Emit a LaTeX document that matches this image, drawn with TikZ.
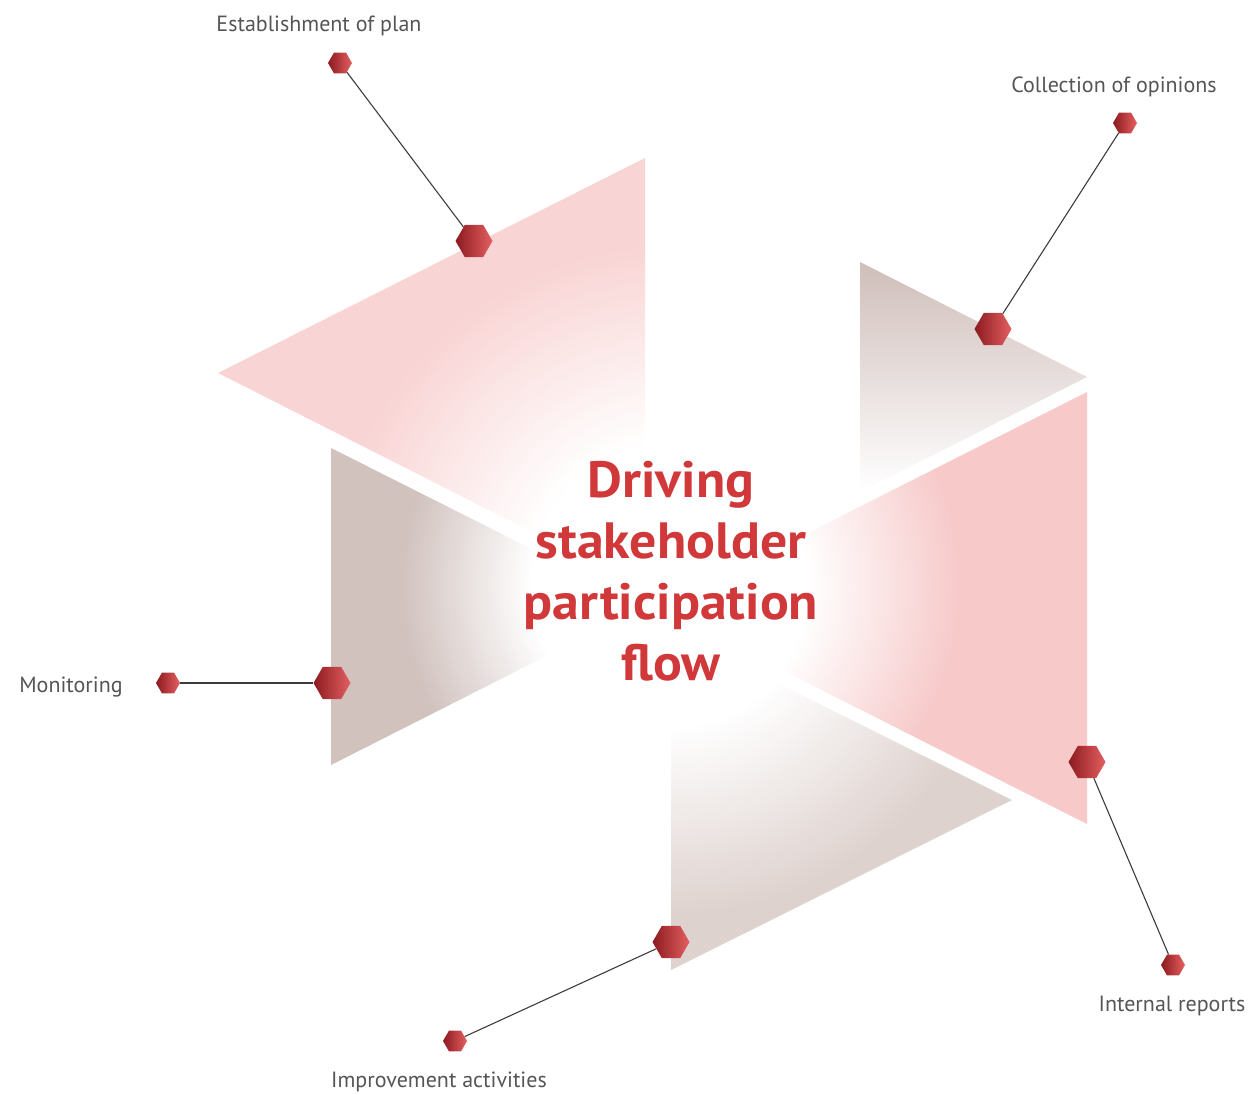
\documentclass[tikz,border=0pt]{standalone}
\usepackage{fontspec}
\setmainfont{PT Sans}
\newfontfamily\titlefont[FakeStretch=1.055]{PT Sans Bold}
\usetikzlibrary{shapes.geometric}
\definecolor{pinkT1}{RGB}{249,212,212}
\definecolor{pinkT4}{RGB}{247,201,201}
\definecolor{taupeA}{RGB}{207,190,186}
\definecolor{taupeT2}{RGB}{209,194,190}
\definecolor{taupeT5}{RGB}{222,210,206}
\definecolor{hexdark}{RGB}{140,26,32}
\definecolor{hexlight}{RGB}{228,96,96}
\definecolor{titlered}{RGB}{208,56,58}
\definecolor{lblgray}{RGB}{85,85,85}
\definecolor{linegray}{RGB}{60,60,60}
% path bounding box half-width (500 units) maps to 25bp: 1bp = 20 units
\pgfdeclareradialshading{shTone}{\pgfpointorigin}{color(0bp)=(white); color(7bp)=(white); color(17bp)=(pinkT1); color(50bp)=(pinkT1)}
\pgfdeclareradialshading{shTtwo}{\pgfpointorigin}{color(0bp)=(white); color(7bp)=(white); color(13.5bp)=(taupeT2); color(50bp)=(taupeT2)}
\pgfdeclareradialshading{shTfour}{\pgfpointorigin}{color(0bp)=(white); color(6.8bp)=(white); color(14.5bp)=(pinkT4); color(50bp)=(pinkT4)}
\pgfdeclareradialshading{shTfive}{\pgfpointorigin}{color(0bp)=(white); color(7bp)=(white); color(16.5bp)=(taupeT5); color(50bp)=(taupeT5)}
\tikzset{
  hexbig/.style={regular polygon, regular polygon sides=6, minimum size=37pt, inner sep=0pt, left color=hexdark, right color=hexlight, draw=none},
  hexsmall/.style={regular polygon, regular polygon sides=6, minimum size=24pt, inner sep=0pt, left color=hexdark, right color=hexlight, draw=none},
  lbl/.style={text=lblgray, font=\fontsize{22}{26}\selectfont, inner sep=0pt},
  conn/.style={draw=linegray, line width=1.1pt},
}
\begin{document}
\begin{tikzpicture}[x=1pt,y=-1pt]
\useasboundingbox (0,0) rectangle (1249,1094);
% triangles with white core (shading square centred at (671,585))
\begin{scope}
  \clip (218,373) -- (645,158) -- (645,589) -- cycle;
  \shade[shading=shTone] (171,85) rectangle (1171,1085);
\end{scope}
\begin{scope}
  \clip (331,448) -- (331,765) -- (645,606) -- cycle;
  \shade[shading=shTtwo] (171,85) rectangle (1171,1085);
\end{scope}
\shade[top color=taupeA, bottom color=white] (860,262) -- (1087,377) -- (860,492) -- cycle;
\begin{scope}
  \clip (1087,392) -- (1087,824) -- (659,608) -- cycle;
  \shade[shading=shTfour] (171,85) rectangle (1171,1085);
\end{scope}
\begin{scope}
  \clip (671,630) -- (1012,800) -- (671,970) -- cycle;
  \shade[shading=shTfive] (171,85) rectangle (1171,1085);
\end{scope}
% title
\node[text=titlered, font=\titlefont\fontsize{51}{61}\selectfont, align=center, anchor=north, inner sep=0pt] (title) at (671,461) {Driving\\stakeholder\\participation\\flow};
% hexagons
\node[hexbig] (h1) at (474,241) {};
\node[hexbig] (h2) at (993,329) {};
\node[hexbig] (h3) at (332,683) {};
\node[hexbig] (h4) at (1087,762) {};
\node[hexbig] (h5) at (671,942) {};
\node[hexsmall] (s1) at (340,63) {};
\node[hexsmall] (s2) at (1125,123) {};
\node[hexsmall] (s3) at (168,683) {};
\node[hexsmall] (s4) at (1173,965) {};
\node[hexsmall] (s5) at (455,1041) {};
\draw[conn] (s1) -- (h1);
\draw[conn] (s2) -- (h2);
\draw[conn] (s3) -- (h3);
\draw[conn] (s4) -- (h4);
\draw[conn] (s5) -- (h5);
% labels
\node[lbl] (l1) at (319,26) {Establishment of plan};
\node[lbl] (l2) at (1114,87) {Collection of opinions};
\node[lbl] (l3) at (71,687) {Monitoring};
\node[lbl] (l4) at (1172,1006) {Internal reports};
\node[lbl] (l5) at (439,1082) {Improvement activities};
\end{tikzpicture}
\end{document}
